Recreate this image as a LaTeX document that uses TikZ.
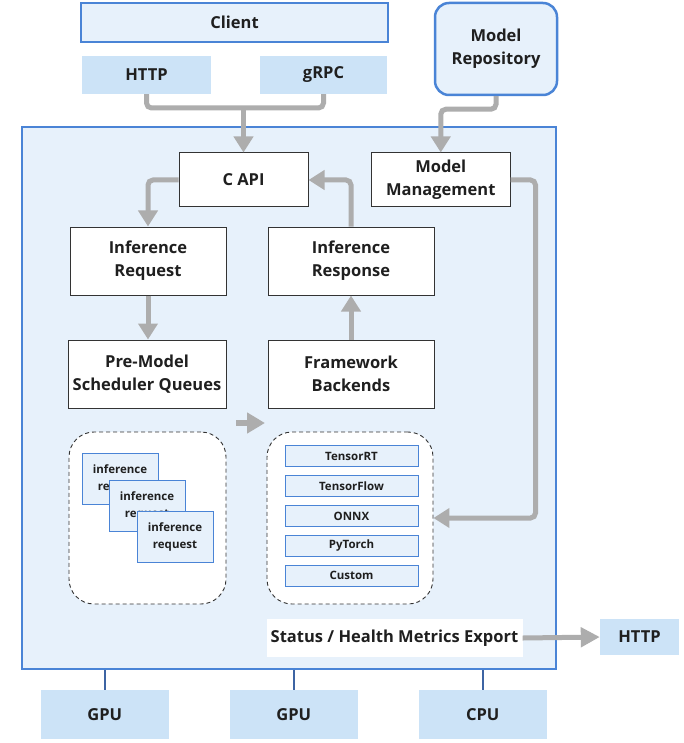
\documentclass[tikz,border=0pt]{standalone}
\usepackage{fontspec}
\setmainfont{Open Sans}
\usetikzlibrary{arrows.meta,calc}
\definecolor{contfill}{HTML}{E7F1FB}
\definecolor{blueline}{HTML}{4A84D6}
\definecolor{ifill}{HTML}{CCE3F7}
\definecolor{conngray}{HTML}{ADADAD}
\definecolor{darkblue}{HTML}{3D64A3}
\definecolor{txt}{HTML}{1F1F1F}
\definecolor{boxline}{HTML}{333333}
\tikzset{
  bigfont/.style={font=\bfseries\fontsize{16.5}{23}\selectfont, text=txt},
  smallfont/.style={font=\bfseries\fontsize{11.5}{17}\selectfont, text=txt},
  bluebox/.style={draw=blueline, line width=2.5pt, fill=contfill, inner sep=0pt, bigfont, align=center},
  ifacebox/.style={fill=ifill, inner sep=0pt, bigfont, align=center},
  whitebox/.style={draw=boxline, line width=1pt, fill=white, inner sep=0pt, bigfont, align=center},
  dashbox/.style={draw=boxline, line width=0.9pt, dash pattern=on 4pt off 3pt, fill=white, rounded corners=25pt, inner sep=0pt},
  cardbox/.style={draw=blueline, line width=1pt, fill=contfill, inner sep=0pt, smallfont, align=center, minimum width=76, minimum height=51},
  backbox/.style={draw=blueline, line width=1pt, fill=contfill, inner sep=0pt, smallfont, minimum width=133, minimum height=21},
  conn/.style={draw=conngray, line width=5pt, rounded corners=5pt, -{Triangle[length=16pt,width=19pt]}},
  plainconn/.style={draw=conngray, line width=5pt, rounded corners=5pt},
  hwline/.style={draw=darkblue, line width=2pt},
}
\begin{document}
\begin{tikzpicture}[x=1pt,y=-1pt]
\fill[white] (0,0) rectangle (683,743);
\useasboundingbox (0,0) rectangle (683,743);

% top row
\node[bluebox, minimum width=307, minimum height=39] (client) at (234.5,22.5) {Client};
\node[ifacebox, minimum width=129, minimum height=38] (http) at (146.5,75) {HTTP};
\node[ifacebox, minimum width=127, minimum height=38] (grpc) at (323.5,75) {gRPC};
\node[bluebox, rounded corners=14pt, minimum width=122, minimum height=92] (repo) at (496,49) {Model\\Repository};

% container
\node[draw=blueline, line width=2.5pt, fill=contfill, minimum width=534, minimum height=542, inner sep=0pt] (cont) at (289,398) {};

% main boxes
\node[whitebox, minimum width=129, minimum height=54] (capi) at (243.5,180) {C API};
\node[whitebox, minimum width=138.5, minimum height=54] (mm) at (440.75,180) {Model\\Management};
\node[whitebox, minimum width=156, minimum height=68] (ireq) at (148,261) {Inference\\Request};
\node[whitebox, minimum width=166, minimum height=68] (iresp) at (351,261) {Inference\\Response};
\node[whitebox, minimum width=158, minimum height=68] (pre) at (147,374) {Pre-Model\\Scheduler Queues};
\node[whitebox, minimum width=166, minimum height=68] (fb) at (351,374) {Framework\\Backends};

% dashed groups
\node[dashbox, minimum width=157, minimum height=172] (qgroup) at (147.5,518) {};
\node[dashbox, minimum width=166, minimum height=172] (bgroup) at (350,518) {};

% request cards
\node[cardbox] (card1) at (120,478.5) {inference\\request};
\node[cardbox] (card2) at (147,505.5) {inference\\request};
\node[cardbox] (card3) at (175,537) {inference\\request};

% backends
\node[backbox] (trt) at (351.5,456) {TensorRT};
\node[backbox] (tf) at (351.5,486) {TensorFlow};
\node[backbox] (onnx) at (351.5,516) {ONNX};
\node[backbox] (pyt) at (351.5,545.5) {PyTorch};
\node[backbox] (cust) at (351.5,575.5) {Custom};

% status
\node[fill=white, inner sep=0pt, bigfont, minimum width=256, minimum height=38] (status) at (394.5,638) {Status / Health Metrics Export};
\node[ifacebox, minimum width=79, minimum height=36] (http2) at (639.5,637) {HTTP};

% hardware
\node[ifacebox, minimum width=128.5, minimum height=49] (gpu1) at (104.75,714.5) {GPU};
\node[ifacebox, minimum width=128.5, minimum height=49] (gpu2) at (293.75,714.5) {GPU};
\node[ifacebox, minimum width=128.5, minimum height=49] (cpu) at (482.75,714.5) {CPU};
\draw[hwline] (gpu1.north |- cont.south) -- (gpu1.north);
\draw[hwline] (gpu2.north |- cont.south) -- (gpu2.north);
\draw[hwline] (cpu.north |- cont.south) -- (cpu.north);

% connectors
\coordinate (merge) at (243.5,108);
\draw[plainconn] (http.south) |- (merge) -| (grpc.south);
\draw[conn] (merge) -- (capi.north);
\draw[conn] (repo.south) -- ++(0,13) -| (mm.north);
\draw[conn] (capi.west) -| (ireq.north);
\draw[conn] (ireq.south) -- (ireq.south |- pre.north);
\draw[conn] (fb.north) -- (iresp.south);
\draw[conn] (iresp.north) |- (capi.east);
\draw[conn] (mm.east) -- ++(25,0) |- (bgroup.east);
\coordinate (qa) at (236,423);
\coordinate (qb) at (265,423);
\draw[draw=conngray, line width=6pt, -{Triangle[length=18pt,width=20pt]}] (qa) -- (qb);
\draw[draw=conngray, line width=5pt, -{Triangle[length=19pt,width=19pt]}] (status.east) -- (http2.west);
\end{tikzpicture}
\end{document}
